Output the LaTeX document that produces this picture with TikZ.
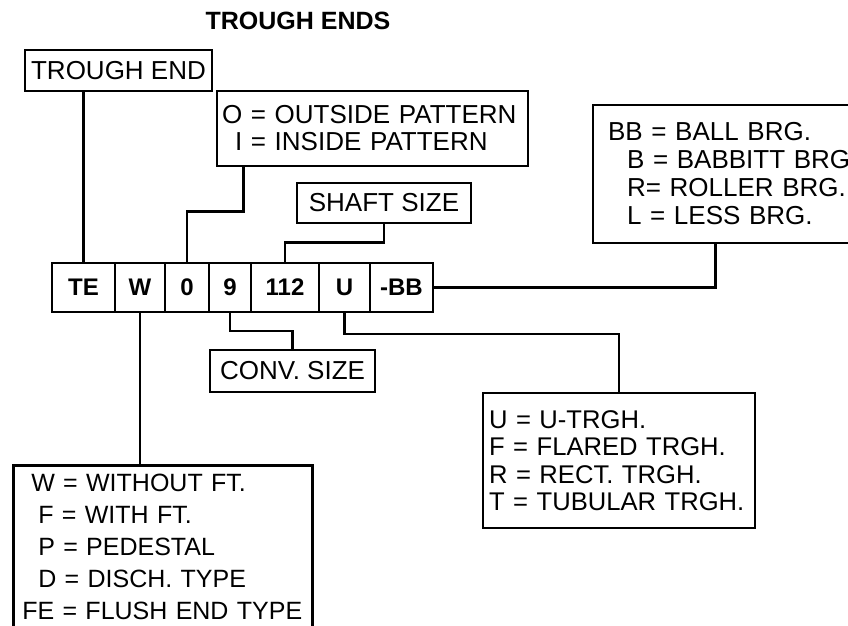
\documentclass[tikz,border=0pt]{standalone}
\usepackage{fontspec}
\setmainfont{Liberation Sans}
\usetikzlibrary{positioning,calc}

\begin{document}
\begin{tikzpicture}[x=0.5pt, y=-0.5pt, line width=1.3pt, node distance=0pt,
  box/.style={draw, inner sep=0pt, font=\fontsize{13}{14}\selectfont},
  cell/.style={draw, outer sep=0pt, inner sep=0pt, minimum height=24.5pt,
    font=\fontsize{12}{14}\selectfont\bfseries},
  keybox/.style={draw, align=left, inner ysep=0pt}]
  \useasboundingbox (0,0) rectangle (848,626);
  \clip (0,0) rectangle (848,626);

  \node[font=\fontsize{12.5}{14}\selectfont\bfseries] (title) at (298,21) {TROUGH ENDS};

  % code row
  \node[cell, minimum width=31.5pt, anchor=west] (te) at (52,287.5) {TE};
  \node[cell, minimum width=25pt, right=of te] (w) {W};
  \node[cell, minimum width=22pt, right=of w] (c0) {0};
  \node[cell, minimum width=21pt, right=of c0] (c9) {9};
  \node[cell, minimum width=34pt, right=of c9] (c112) {112};
  \node[cell, minimum width=25.5pt, right=of c112] (cu) {U};
  \node[cell, minimum width=31.5pt, right=of cu] (cbb) {-BB};

  % legend boxes
  \node[box, minimum width=93.5pt, minimum height=20.5pt] (tend) at (118.5,70.5) {TROUGH END};
  \node[keybox, inner xsep=2.5pt, text width=150.5pt, minimum height=37.5pt,
    font=\fontsize{13}{13.5}\selectfont] (oi) at (372.5,128.5)
    {O = OUTSIDE PATTERN\\\hspace*{6.5pt}I = INSIDE PATTERN};
  \node[box, minimum width=87pt, minimum height=20pt] (shaft) at (384,203) {SHAFT SIZE};
  \node[box, minimum width=82.5pt, minimum height=21pt] (conv) at (292.5,371) {CONV. SIZE};
  \node[keybox, inner xsep=7.5pt, text width=123.5pt, minimum height=69pt,
    font=\fontsize{13}{14}\selectfont] (bb) at (731.5,174)
    {BB = BALL BRG.\\\hspace*{9.5pt}B = BABBITT BRG\\\hspace*{9.5pt}R= ROLLER BRG.\\\hspace*{9.5pt}L = LESS BRG.};
  \node[keybox, inner xsep=3pt, text width=130pt, minimum height=67.5pt,
    font=\fontsize{12.8}{13.7}\selectfont] (ubox) at (619,460.5)
    {U = U-TRGH.\\F = FLARED TRGH.\\R = RECT. TRGH.\\T = TUBULAR TRGH.};
  \node[keybox, anchor=north west, inner xsep=3pt, inner ysep=4.25pt, text width=143.5pt,
    font=\fontsize{12.5}{16}\selectfont] (wbox) at (12,464)
    {\hspace*{6pt}W = WITHOUT FT.\\\hspace*{9.5pt}F = WITH FT.\\\hspace*{9.5pt}P = PEDESTAL\\
     \hspace*{9.5pt}D = DISCH. TYPE\\\hspace*{1.5pt}FE = FLUSH END TYPE};

  % leaders
  \draw (te.north |- tend.south) -- (te.north);
  \draw (oi.south west) ++(28,0) -- ++(0,44) -| (c0.north);
  \draw (shaft.south) -- ++(0,18) -| (c112.north);
  \draw (c9.south) -- ++(0,19) -| (conv.north);
  \draw (cu.south) -- ++(0,22) -| (ubox.north);
  \draw (cbb.east) -| ($(bb.south west)+(124,0)$);
  \draw (w.south) -- (w.south |- wbox.north);
\end{tikzpicture}
\end{document}
